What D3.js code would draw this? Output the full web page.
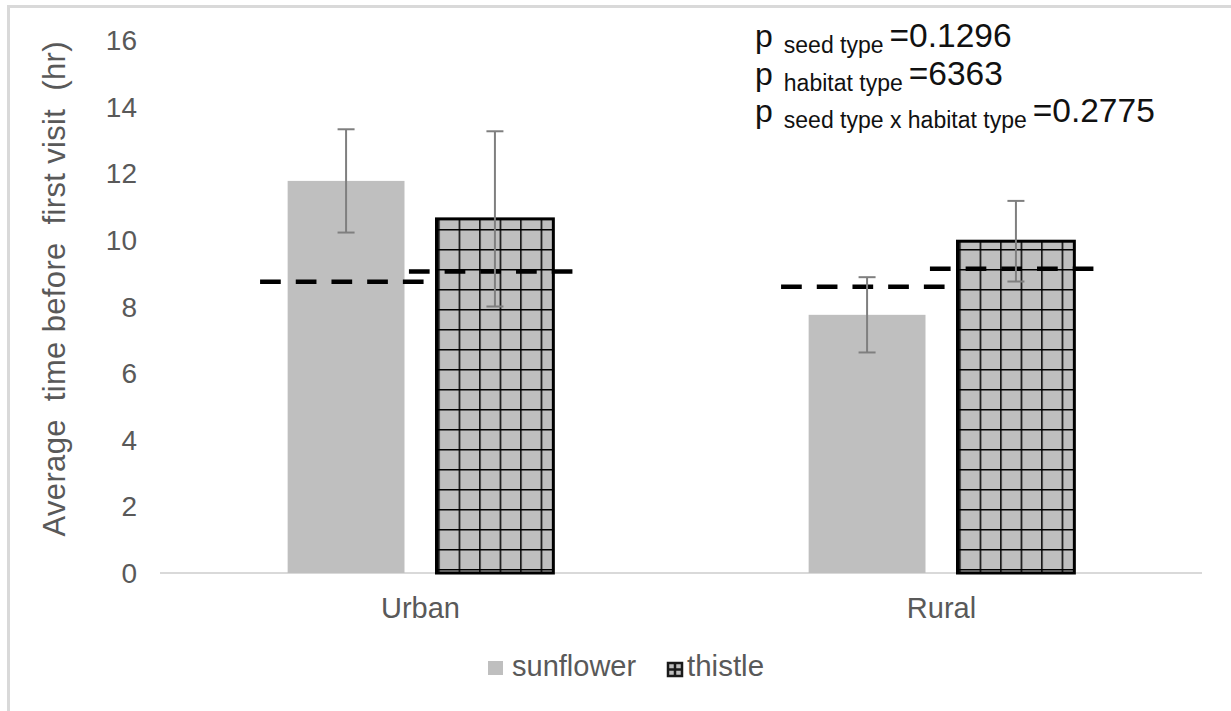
<!DOCTYPE html>
<html>
<head>
<meta charset="utf-8">
<script src="https://cdn.jsdelivr.net/npm/d3@7"></script>
<style>
  body { margin: 0; background: #fff; }
  text { font-family: "Liberation Sans", Arial, sans-serif; }
</style>
</head>
<body>
<svg id="chart"></svg>
<script>
var categories = ["Urban", "Rural"];
var seriesNames = ["sunflower", "thistle"];
var sunflowerMeans = [11.77, 7.75];
var thistleMeans = [10.63, 9.96];
var sunflowerErr = [1.55, 1.13];
var thistleErr = [2.63, 1.21];
var sunflowerDashed = [8.74, 8.59];
var thistleDashed = [9.05, 9.13];
var yTicks = [0, 2, 4, 6, 8, 10, 12, 14, 16];
var pLines = [
  { sub: "seed type", val: "=0.1296" },
  { sub: "habitat type", val: "=6363" },
  { sub: "seed type x habitat type", val: "=0.2775" }
];

var width = 1231, height = 711;
var svg = d3.select("#chart").attr("width", width).attr("height", height);

// pattern for thistle bars
var defs = svg.append("defs");
var pat = defs.append("pattern")
  .attr("id", "grid")
  .attr("patternUnits", "userSpaceOnUse")
  .attr("x", 7).attr("y", 9)
  .attr("width", 20.5).attr("height", 20);
pat.append("rect").attr("width", 20.5).attr("height", 20).attr("fill", "#bfbfbf");
pat.append("path").attr("d", "M0,0H20.5M0,0V20")
  .attr("stroke", "#000").attr("stroke-width", 3).attr("fill", "none");

// outer frame
svg.append("rect")
  .attr("x", 8.5).attr("y", 6.5)
  .attr("width", 1240).attr("height", 720)
  .attr("fill", "none").attr("stroke", "#d9d9d9").attr("stroke-width", 3);

var rows = categories.map(function(c, i) {
  return [
    { cat: c, s: "sunflower", v: sunflowerMeans[i], e: sunflowerErr[i], d: sunflowerDashed[i] },
    { cat: c, s: "thistle", v: thistleMeans[i], e: thistleErr[i], d: thistleDashed[i] }
  ];
});

var x0 = d3.scaleBand().domain(categories).range([160, 1202])
  .paddingInner(0.49).paddingOuter(0.245);
var x1 = d3.scaleBand().domain(seriesNames).range([0, x0.bandwidth()])
  .paddingInner(0.215);
var y = d3.scaleLinear().domain([0, 16]).range([573, 40]);

// y tick labels
svg.append("g").selectAll("text")
  .data(yTicks).enter().append("text")
    .attr("x", 137)
    .attr("y", function(d) { return y(d) + 10; })
    .attr("text-anchor", "end")
    .attr("font-size", 28)
    .attr("fill", "#595959")
    .text(function(d) { return d; });

// baseline
svg.append("line")
  .attr("x1", 160).attr("x2", 1202)
  .attr("y1", y(0)).attr("y2", y(0))
  .attr("stroke", "#d9d9d9").attr("stroke-width", 2);

var groups = svg.append("g").selectAll("g")
  .data(rows).enter().append("g")
    .attr("transform", function(d) { return "translate(" + x0(d[0].cat) + ",0)"; });

groups.selectAll("rect")
  .data(function(d) { return d; }).enter().append("rect")
    .attr("x", function(d) { return x1(d.s); })
    .attr("y", function(d) { return y(d.v); })
    .attr("width", x1.bandwidth())
    .attr("height", function(d) { return y(0) - y(d.v); })
    .attr("fill", function(d) { return d.s === "thistle" ? "url(#grid)" : "#bfbfbf"; })
    .attr("stroke", function(d) { return d.s === "thistle" ? "#000" : "none"; })
    .attr("stroke-width", 3);

// dashed reference lines
groups.selectAll("line.dash")
  .data(function(d) { return d; }).enter().append("line")
    .attr("class", "dash")
    .attr("x1", function(d) { return x1(d.s) + x1.bandwidth() / 2 - 86; })
    .attr("x2", function(d) { return x1(d.s) + x1.bandwidth() / 2 + 78; })
    .attr("y1", function(d) { return y(d.d); })
    .attr("y2", function(d) { return y(d.d); })
    .attr("stroke", "#000").attr("stroke-width", 4.5)
    .attr("stroke-dasharray", "20.7,15");

// error bars
var eb = groups.selectAll("g.err")
  .data(function(d) { return d; }).enter().append("g")
    .attr("class", "err")
    .attr("stroke", "#7f7f7f").attr("stroke-width", 2);
eb.append("line")
  .attr("x1", function(d) { return x1(d.s) + x1.bandwidth() / 2; })
  .attr("x2", function(d) { return x1(d.s) + x1.bandwidth() / 2; })
  .attr("y1", function(d) { return y(d.v + d.e); })
  .attr("y2", function(d) { return y(d.v - d.e); });
[1, -1].forEach(function(sign) {
  eb.append("line")
    .attr("x1", function(d) { return x1(d.s) + x1.bandwidth() / 2 - 8.5; })
    .attr("x2", function(d) { return x1(d.s) + x1.bandwidth() / 2 + 8.5; })
    .attr("y1", function(d) { return y(d.v + sign * d.e); })
    .attr("y2", function(d) { return y(d.v + sign * d.e); });
});

// category labels
svg.append("g").selectAll("text")
  .data(categories).enter().append("text")
    .attr("x", function(d) { return x0(d) + x0.bandwidth() / 2; })
    .attr("y", 618)
    .attr("text-anchor", "middle")
    .attr("font-size", 29)
    .attr("fill", "#595959")
    .text(function(d) { return d; });

// y axis title
svg.append("text")
  .attr("transform", "translate(65,289) rotate(-90)")
  .attr("text-anchor", "middle")
  .attr("font-size", 31)
  .attr("fill", "#595959")
  .attr("xml:space", "preserve")
  .style("white-space", "pre")
  .attr("textLength", 495)
  .text("Average  time before  first visit  (hr)");

// legend
var lg = svg.append("g");
lg.append("rect").attr("x", 488).attr("y", 661).attr("width", 15).attr("height", 14)
  .attr("fill", "#bfbfbf");
lg.append("text").attr("x", 512).attr("y", 676).attr("font-size", 29)
  .attr("fill", "#595959").text(seriesNames[0]);
lg.append("rect").attr("x", 668).attr("y", 663).attr("width", 14).attr("height", 13)
  .attr("fill", "#bfbfbf").attr("stroke", "#1a1a1a").attr("stroke-width", 2.5);
lg.append("path").attr("d", "M668,669.5H682M675,663V676")
  .attr("stroke", "#1a1a1a").attr("stroke-width", 2.5);
lg.append("text").attr("x", 687).attr("y", 676).attr("font-size", 29.5)
  .attr("fill", "#595959").text(seriesNames[1]);

// p-value annotation
var ann = svg.append("g").selectAll("text")
  .data(pLines).enter().append("text")
    .attr("x", 755)
    .attr("y", function(d, i) { return 47 + i * 37.5; })
    .attr("fill", "#111");
ann.append("tspan").attr("font-size", 32).text("p");
ann.append("tspan").attr("font-size", 23).attr("dx", 11).attr("dy", 6)
  .text(function(d) { return d.sub; });
ann.append("tspan").attr("font-size", 33.5).attr("dx", 6).attr("dy", -6)
  .text(function(d) { return d.val; });
</script>
</body>
</html>
